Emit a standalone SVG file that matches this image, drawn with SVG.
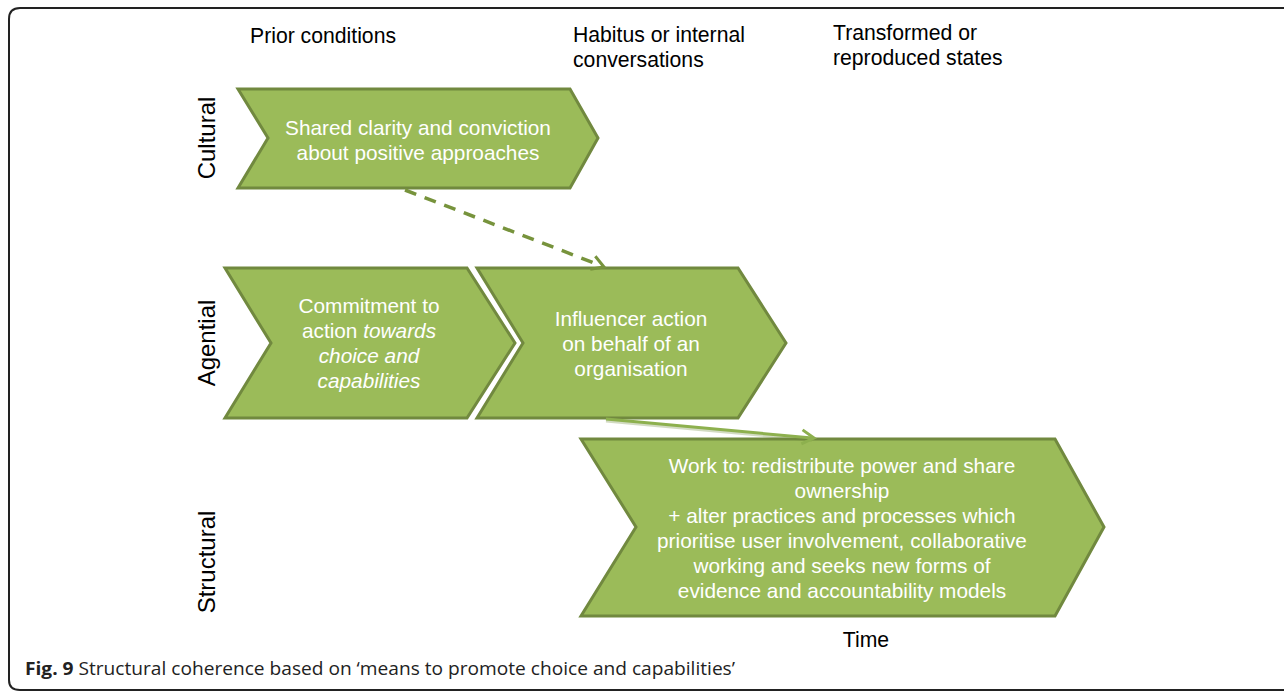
<svg xmlns="http://www.w3.org/2000/svg" width="1284" height="691" viewBox="0 0 1284 691">
<defs>
<style>
.chev{fill:#9BBB59;stroke:#71893F;stroke-width:3;stroke-linejoin:miter}
.wt{fill:#fff;font-family:"Liberation Sans",Arial,sans-serif;font-size:20.8px;text-anchor:middle}
.bt{fill:#000;font-family:"Liberation Sans",Arial,sans-serif;font-size:21.2px}
.lab{fill:#000;font-family:"Liberation Sans",Arial,sans-serif;font-size:24px;text-anchor:middle}
.it{font-style:italic}
.head{fill:none;stroke-width:3;stroke-linejoin:miter;stroke-linecap:butt}
</style>
</defs>
<rect width="1284" height="691" fill="#fff"/>
<path d="M1290,8 H20 Q9,8 9,19 V680 Q9,690 20,690 H1290" fill="none" stroke="#222" stroke-width="2"/>

<g id="headers">
<text class="bt" x="250" y="43">Prior conditions</text>
<text class="bt" x="573" y="42">Habitus or internal</text>
<text class="bt" x="573" y="67">conversations</text>
<text class="bt" x="833" y="40">Transformed or</text>
<text class="bt" x="833" y="65">reproduced states</text>
<text class="bt" x="866" y="647" text-anchor="middle">Time</text>
</g>

<g id="rowlabels">
<text class="lab" transform="translate(215,138) rotate(-90)">Cultural</text>
<text class="lab" transform="translate(215,343) rotate(-90)">Agential</text>
<text class="lab" transform="translate(215,562) rotate(-90)">Structural</text>
</g>

<g id="node-cultural">
<polygon class="chev" points="238,89 570,89 598,138 570,188 238,188 268,138"/>
<text class="wt" x="418" y="135">Shared clarity and conviction</text>
<text class="wt" x="418" y="160">about positive approaches</text>
</g>

<g id="node-commitment">
<polygon class="chev" points="225,268 467,268 515,343 467,418 225,418 271,343"/>
<text class="wt" x="369" y="313">Commitment to</text>
<text class="wt" x="369" y="338">action <tspan class="it">towards</tspan></text>
<text class="wt it" x="369" y="363">choice and</text>
<text class="wt it" x="369" y="388">capabilities</text>
</g>

<g id="node-influencer">
<polygon class="chev" points="477,268 738,268 786,343 738,418 477,418 523,343"/>
<text class="wt" x="631" y="326">Influencer action</text>
<text class="wt" x="631" y="351">on behalf of an</text>
<text class="wt" x="631" y="376">organisation</text>
</g>

<g id="node-structural">
<polygon class="chev" points="581,439 1055,439 1104,527 1055,616 581,616 636,527"/>
<text class="wt" x="842" y="473">Work to: redistribute power and share</text>
<text class="wt" x="842" y="498">ownership</text>
<text class="wt" x="842" y="523">+ alter practices and processes which</text>
<text class="wt" x="842" y="548">prioritise user involvement, collaborative</text>
<text class="wt" x="842" y="573">working and seeks new forms of</text>
<text class="wt" x="842" y="598">evidence and accountability models</text>
</g>

<g id="connectors">
<line x1="405" y1="190" x2="602" y2="266" stroke="#77933C" stroke-width="3.5" stroke-dasharray="12,9"/>
<path class="head" d="M595.3,256.2 L604,267 L590.3,269.2" stroke="#77933C"/>
<line x1="606" y1="421" x2="812" y2="440" stroke="#6E8A3A" stroke-width="3" opacity="0.3"/>
<line x1="606" y1="419" x2="812" y2="438" stroke="#8DB04E" stroke-width="3"/>
<path class="head" d="M802.6,429.9 L814,438 L801.4,443.9" stroke="#8DB04E"/>
</g>

<g id="caption">
<text x="25" y="675" font-family="'Open Sans','Liberation Sans',sans-serif" font-size="18" fill="#222" textLength="710" lengthAdjust="spacingAndGlyphs"><tspan font-weight="bold">Fig. 9</tspan> Structural coherence based on ‘means to promote choice and capabilities’</text>
</g>
</svg>
